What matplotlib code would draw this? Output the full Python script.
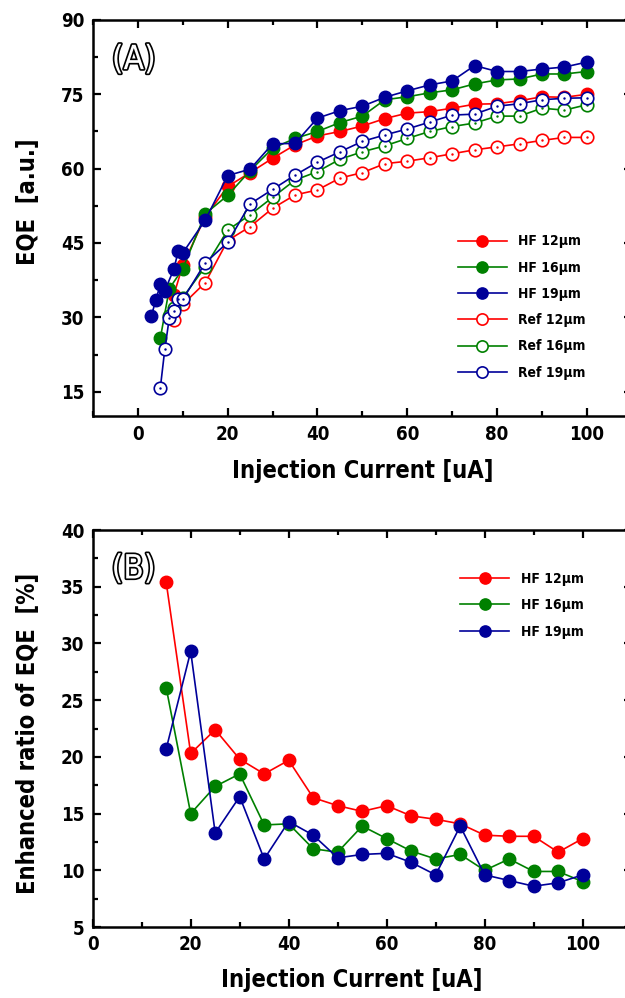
import matplotlib
matplotlib.use("Agg")
import matplotlib.pyplot as plt
from matplotlib import font_manager
from matplotlib.ticker import MultipleLocator
import matplotlib.patheffects as pe

# ---------------- data ----------------
grid = [20, 25, 30, 35, 40, 45, 50, 55, 60, 65, 70, 75, 80, 85, 90, 95, 100]

hf12_x = [8, 10, 15] + grid
hf12_y = [34.5, 40.5, 50.3, 56.4, 59.2, 62.1, 64.8, 66.6, 67.5, 68.6, 70.1, 71.2,
          71.5, 72.2, 73.0, 73.1, 73.7, 74.5, 74.4, 75.0]
hf16_x = [5, 7, 10, 15] + grid
hf16_y = [25.8, 35.8, 39.8, 50.9, 54.6, 59.6, 64.1, 66.1, 67.5, 69.3, 70.6, 73.9,
          74.5, 75.3, 75.9, 77.1, 77.9, 78.1, 79.1, 79.1, 79.6]
hf19_x = [3, 4, 5, 6, 8, 9, 10, 15] + grid
hf19_y = [30.3, 33.5, 36.7, 35.4, 39.7, 43.4, 43.0, 49.6, 58.6, 59.9, 65.0, 65.1,
          70.2, 71.7, 72.6, 74.4, 75.7, 76.9, 77.7, 80.8, 79.6, 79.6, 80.1, 80.5, 81.5]
ref12_x = [8, 10, 15] + grid
ref12_y = [29.5, 32.6, 37.0, 45.5, 48.3, 52.0, 54.7, 55.7, 58.1, 59.2, 61.0, 61.5,
           62.2, 63.0, 63.8, 64.4, 65.0, 65.7, 66.3, 66.3]
ref16_x = [7, 8, 10, 15] + grid
ref16_y = [30.2, 31.8, 34.0, 40.2, 47.6, 50.7, 54.2, 57.7, 59.4, 61.9, 63.4, 64.6,
           66.1, 67.5, 68.5, 69.2, 70.6, 70.6, 72.2, 71.8, 72.9]
ref19_x = [5, 6, 7, 8, 9, 10, 15] + grid
ref19_y = [15.8, 23.6, 29.9, 31.2, 33.6, 33.6, 41.0, 45.1, 52.9, 55.8, 58.7, 61.3,
           63.4, 65.5, 66.8, 68.0, 69.4, 70.8, 71.0, 72.6, 73.1, 73.9, 74.2, 74.3]

b_x = [15, 20, 25, 30, 35, 40, 45, 50, 55, 60, 65, 70, 75, 80, 85, 90, 95, 100]
b_hf12 = [35.4, 20.3, 22.4, 19.8, 18.5, 19.7, 16.4, 15.7, 15.2, 15.7, 14.8, 14.5,
          14.1, 13.1, 13.0, 13.0, 11.6, 12.8]
b_hf16 = [26.1, 15.0, 17.4, 18.5, 14.0, 14.1, 11.9, 11.6, 13.9, 12.8, 11.7, 11.0,
          11.4, 10.0, 11.0, 9.9, 9.9, 9.0]
b_hf19 = [20.7, 29.3, 13.3, 16.5, 11.0, 14.3, 13.1, 11.1, 11.4, 11.5, 10.7, 9.6,
          13.9, 9.6, 9.1, 8.6, 8.9, 9.6]

labels_hf = ["HF 12\u03bcm", "HF 16\u03bcm", "HF 19\u03bcm"]
labels_ref = ["Ref 12\u03bcm", "Ref 16\u03bcm", "Ref 19\u03bcm"]

RED, GREEN, BLUE = "#FF0000", "#008000", "#000099"

# ---------------- font ----------------
names = {f.name for f in font_manager.fontManager.ttflist}
has_dv_cond = any("Condensed" in f.fname and "DejaVuSans" in f.fname.replace(" ", "")
                  and "Mono" not in f.fname
                  for f in font_manager.fontManager.ttflist)
if "Liberation Sans Narrow" in names:
    plt.rcParams["font.family"] = ["Liberation Sans Narrow", "DejaVu Sans"]
    SC = 1.05
elif has_dv_cond:
    plt.rcParams["font.family"] = ["DejaVu Sans"]
    plt.rcParams["font.stretch"] = "condensed"
    SC = 1.0
else:
    plt.rcParams["font.family"] = ["Liberation Sans", "DejaVu Sans"]
    SC = 0.95
plt.rcParams["font.weight"] = "bold"

fig = plt.figure(figsize=(6.25, 9.98), dpi=100)
axA = fig.add_axes([0.1488, 0.5827, 0.862, 0.3973])
axB = fig.add_axes([0.1483, 0.0711, 0.8624, 0.3978])

TICK_FS = 13.5 * SC
LAB_FS = 17 * SC
LEG_FS = 10 * SC


def style(ax):
    for s in ax.spines.values():
        s.set_linewidth(1.8)
    ax.tick_params(which="both", direction="in", top=True, right=True, width=1.6,
                   labelsize=TICK_FS, pad=6)
    ax.tick_params(which="major", length=6)
    ax.tick_params(which="minor", length=3.5)
    for t in ax.get_xticklabels() + ax.get_yticklabels():
        t.set_fontweight("bold")


ms = 9
mew_open = 1.2
# Panel A
for x, y, c, lab in [(hf12_x, hf12_y, RED, labels_hf[0]),
                     (hf16_x, hf16_y, GREEN, labels_hf[1]),
                     (hf19_x, hf19_y, BLUE, labels_hf[2])]:
    axA.plot(x, y, "-o", color=c, lw=1.2, ms=ms, mec=c, mfc=c, label=lab)
for x, y, c, lab in [(ref12_x, ref12_y, RED, labels_ref[0]),
                     (ref16_x, ref16_y, GREEN, labels_ref[1]),
                     (ref19_x, ref19_y, BLUE, labels_ref[2])]:
    axA.plot(x, y, "-o", color=c, lw=1.2, ms=ms, mec=c, mfc="white", mew=mew_open,
             label=lab)
    axA.plot(x, y, ".", color=c, ms=1.5)

axA.set_xlim(-10, 110)
axA.set_ylim(10, 90)
axA.xaxis.set_major_locator(MultipleLocator(20))
axA.xaxis.set_minor_locator(MultipleLocator(10))
axA.yaxis.set_major_locator(MultipleLocator(15))
axA.yaxis.set_minor_locator(MultipleLocator(7.5))
style(axA)
xlA = axA.set_xlabel("Injection Current [uA]", fontsize=LAB_FS, fontweight="bold")
xlA.set_va("center")
axA.xaxis.set_label_coords(0.5, -55 / 396.5)
ylA = axA.set_ylabel("EQE  [a.u.]", fontsize=LAB_FS, fontweight="bold")
ylA.set_va("center")
axA.yaxis.set_label_coords(-65 / 538.8, 0.541)
handles, labs = axA.get_legend_handles_labels()
legA = axA.legend(handles, labs, loc="upper left", bbox_to_anchor=(0.667, 0.473),
                  frameon=False, fontsize=LEG_FS, handlelength=3.5, labelspacing=0.88,
                  handletextpad=0.85, borderaxespad=0, markerscale=0.9)
for t in legA.get_texts():
    t.set_fontweight("bold")
axA.text(0.035, 0.9, "(A)", transform=axA.transAxes, fontsize=24 * SC, color="white",
         fontweight="normal", va="center", ha="left",
         path_effects=[pe.withStroke(linewidth=2.4, foreground="black")])

# Panel B
for y, c, lab in [(b_hf12, RED, labels_hf[0]), (b_hf16, GREEN, labels_hf[1]),
                  (b_hf19, BLUE, labels_hf[2])]:
    axB.plot(b_x, y, "-o", color=c, lw=1.2, ms=ms, mec=c, mfc=c, label=lab)
axB.set_xlim(0, 110)
axB.set_ylim(5, 40)
axB.xaxis.set_major_locator(MultipleLocator(20))
axB.xaxis.set_minor_locator(MultipleLocator(10))
axB.yaxis.set_major_locator(MultipleLocator(5))
axB.yaxis.set_minor_locator(MultipleLocator(2.5))
style(axB)
xlB = axB.set_xlabel("Injection Current [uA]", fontsize=LAB_FS, fontweight="bold")
xlB.set_va("center")
axB.xaxis.set_label_coords(0.48, -53 / 397)
ylB = axB.set_ylabel("Enhanced ratio of EQE  [%]", fontsize=LAB_FS, fontweight="bold")
ylB.set_va("center")
axB.yaxis.set_label_coords(-65 / 539, 0.487)
legB = axB.legend(loc="upper left", bbox_to_anchor=(0.672, 0.908), frameon=False,
                  fontsize=LEG_FS, handlelength=3.5, labelspacing=0.88,
                  handletextpad=0.85, borderaxespad=0, markerscale=0.9)
for t in legB.get_texts():
    t.set_fontweight("bold")
axB.text(0.035, 0.902, "(B)", transform=axB.transAxes, fontsize=24 * SC, color="white",
         fontweight="normal", va="center", ha="left",
         path_effects=[pe.withStroke(linewidth=2.4, foreground="black")])

fig.savefig("out.png", dpi=100)
